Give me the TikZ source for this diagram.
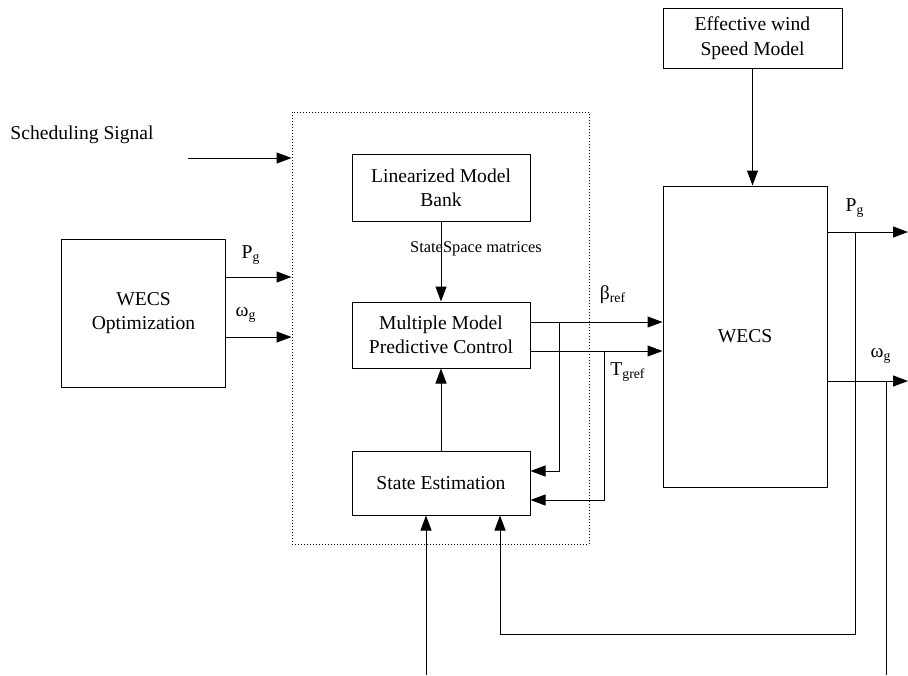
\documentclass[tikz,border=0pt]{standalone}
\usepackage{fontspec}
\setmainfont{Liberation Serif}
\usetikzlibrary{arrows.meta}

\tikzset{
  block/.style={draw, line width=0.5pt, align=center, inner sep=0pt, font=\fontsize{9.8}{12.2}\selectfont},
  lbl/.style={inner sep=0pt, font=\fontsize{9.8}{12.2}\selectfont},
  sig/.style={line width=0.5pt, -{Triangle[length=7.5pt,width=5.5pt]}},
  wire/.style={line width=0.5pt},
}

\begin{document}
\begin{tikzpicture}[x=0.5pt,y=-0.5pt]
    \useasboundingbox (0,0) rectangle (908,675);
    % controller frame
    \node[draw, densely dotted, line width=0.5pt, inner sep=0pt, minimum width=148.5pt, minimum height=216pt] (ctrl) at (440.5,328) {};
    \node[block, minimum width=89pt, minimum height=33.5pt] (lmb) at (441,187.5) {Linearized Model\\Bank};
    \node[block, minimum width=89pt, minimum height=33pt] (mmpc) at (441,335) {Multiple Model\\Predictive Control};
    \node[block, minimum width=89pt, minimum height=32pt] (se) at (441,483) {State Estimation};
    \node[block, minimum width=82pt, minimum height=74pt] (opt) at (143.5,313) {WECS\\Optimization};
    \node[block, minimum width=82pt, minimum height=150.5pt] (wecs) at (745,336.5) {WECS};
    \node[block, minimum width=89.5pt, minimum height=30pt] (wind) at (752.5,38) {Effective wind\\Speed Model};
    % labels
    \node[lbl, anchor=west] (schedtxt) at (10,135) {Scheduling Signal};
    \node[lbl] (pgin) at (251,255) {P\textsubscript{g}};
    \node[lbl] (wgin) at (246,315) {ω\textsubscript{g}};
    \node[lbl] (brefl) at (613,295) {β\textsubscript{ref}};
    \node[lbl] (tgrefl) at (628,372) {T\textsubscript{gref}};
    \node[lbl] (pgout) at (855,208) {P\textsubscript{g}};
    \node[lbl] (wgout) at (881,356) {ω\textsubscript{g}};
    \node[lbl, font=\fontsize{8.2}{10}\selectfont] (ssm) at (476,249) {StateSpace matrices};
    % branch points
    \coordinate (schedin) at (188,158);
    \coordinate (bsplit) at (559,322);
    \coordinate (tsplit) at (604,351);
    \coordinate (pgend) at (908,232);
    \coordinate (wgend) at (908,381);
    \coordinate (pgsplit) at (855,232);
    \coordinate (wgsplit) at (886,381);
    \coordinate (fbcorner) at (500,634);
    \coordinate (measin) at (426,675);
    % connectors
    \draw[sig] (schedin) -- (schedin -| ctrl.west);
    \draw[sig] (opt.east |- 0,277) -- (ctrl.west |- 0,277);
    \draw[sig] (opt.east |- 0,337) -- (ctrl.west |- 0,337);
    \draw[sig] (lmb.south) -- (mmpc.north);
    \draw[sig] (se.north) -- (mmpc.south);
    \draw[sig] (mmpc.east |- bsplit) -- (wecs.west |- bsplit);
    \draw[sig] (mmpc.east |- tsplit) -- (wecs.west |- tsplit);
    \draw[sig] (bsplit) |- (se.east |- 0,471);
    \draw[sig] (tsplit) |- (se.east |- 0,500);
    \draw[sig] (wind.south) -- (wind.south |- wecs.north);
    \draw[sig] (wecs.east |- pgend) -- (pgend);
    \draw[sig] (wecs.east |- wgend) -- (wgend);
    \draw[sig] (pgsplit) |- (fbcorner) -- (fbcorner |- se.south);
    \draw[wire] (wgsplit) -- (wgsplit |- measin);
    \draw[sig] (measin) -- (measin |- se.south);
\end{tikzpicture}
\end{document}
